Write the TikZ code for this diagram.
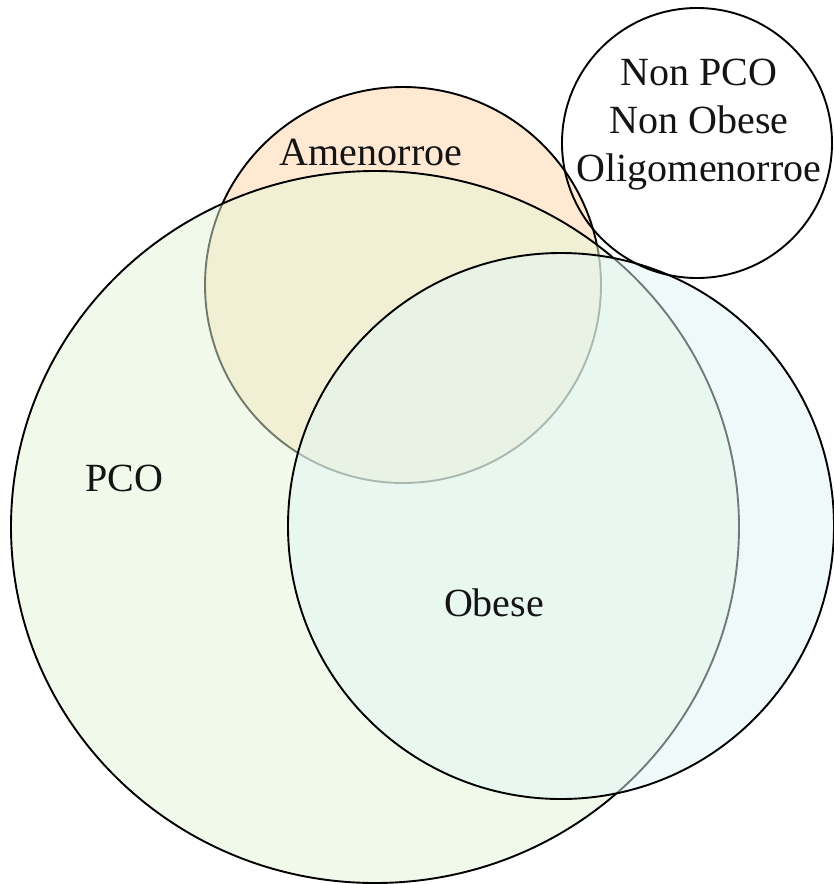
\documentclass[tikz,border=0pt]{standalone}
\usepackage{fontspec}
\setmainfont{Liberation Serif}
\definecolor{amenC}{RGB}{255,213,169}
\definecolor{pcoC}{RGB}{228,246,214}
\definecolor{obeseC}{RGB}{225,245,247}
\definecolor{txtC}{RGB}{20,20,20}
\tikzset{
  setc/.style={draw=black, line width=1.9pt, fill opacity=0.5},
  lbl/.style={font=\fontsize{40}{48}\selectfont, text=txtC, inner sep=0pt}
}
\begin{document}
\begin{tikzpicture}[x=1pt,y=-1pt]
\useasboundingbox (0,0) rectangle (834,884);
\fill[white] (0,0) rectangle (834,884);
% Amenorroe
\draw[setc, fill=amenC] (403,285) circle[radius=198pt];
% PCO
\draw[setc, fill=pcoC] (375,527) ellipse[x radius=364pt, y radius=356pt];
% Obese
\draw[setc, fill=obeseC] (561,526) circle[radius=273pt];
% Non PCO
\draw[draw=black, line width=1.9pt] (697,143) circle[radius=135pt];
\node[lbl, anchor=base] (amen) at (371,165) {Amenorroe};
\node[lbl, anchor=base] (pco) at (124,491) {PCO};
\node[lbl, anchor=base] (obese) at (494,616) {Obese};
\node[lbl, anchor=base, align=center] (nonpco) at (699,181) {Non PCO\\Non Obese\\Oligomenorroe};
\end{tikzpicture}
\end{document}
